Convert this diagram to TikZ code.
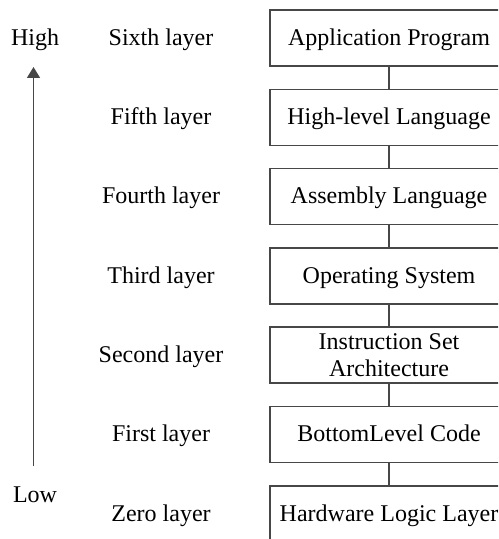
\documentclass[tikz,border=0pt]{standalone}
\usepackage{fontspec}
\setmainfont{Liberation Serif}
\usetikzlibrary{arrows.meta}
\begin{document}
\begin{tikzpicture}[x=0.5pt,y=-0.5pt,
  line width=0.75pt,
  ink/.style={draw=black!72},
  layerbox/.style={ink, rectangle, minimum width=119pt, minimum height=28pt,
    inner sep=0pt, font=\fontsize{12}{13.5}\selectfont,
    text height=0.82em, text depth=0.1em},
  layerlabel/.style={font=\fontsize{12}{13.5}\selectfont,
    text height=0.82em, text depth=0.1em, inner sep=0pt},
  link/.style={ink},
  scale arrow/.style={ink, -{Triangle[length=5.5pt,width=6.5pt]}, fill=black!72}]
\useasboundingbox (0,0) rectangle (498,539);
\clip (0,0) rectangle (498,539);

% the stack of layers
\node[layerbox] (b6) at (389,38)    {Application Program};
\node[layerbox] (b5) at (389,117.3) {High-level Language};
\node[layerbox] (b4) at (389,196.6) {Assembly Language};
\node[layerbox] (b3) at (389,275.9) {Operating System};
\node[layerbox, align=center, text height={}, text depth={}] (b2) at (389,355.2)
  {Instruction Set\\Architecture};
\node[layerbox] (b1) at (389,434.5) {BottomLevel Code};
\node[layerbox] (b0) at (389,513.8) {Hardware Logic Layer};

\foreach \u/\l in {b6/b5,b5/b4,b4/b3,b3/b2,b2/b1,b1/b0}
  \draw[link] (\u.south) -- (\l.north);

% layer names
\node[layerlabel] (l6) at (161,38)    {Sixth layer};
\node[layerlabel] (l5) at (161,117.3) {Fifth layer};
\node[layerlabel] (l4) at (161,196.6) {Fourth layer};
\node[layerlabel] (l3) at (161,275.9) {Third layer};
\node[layerlabel] (l2) at (161,355.2) {Second layer};
\node[layerlabel] (l1) at (161,434.5) {First layer};
\node[layerlabel] (l0) at (161,513.8) {Zero layer};

% level scale
\node[layerlabel] (high) at (35,38) {High};
\node[layerlabel] (low) at (35,495) {Low};
\coordinate (abot) at (33.5,466);
\coordinate (atop) at (33.5,67);
\draw[scale arrow] (abot) -- (atop);
\end{tikzpicture}
\end{document}
